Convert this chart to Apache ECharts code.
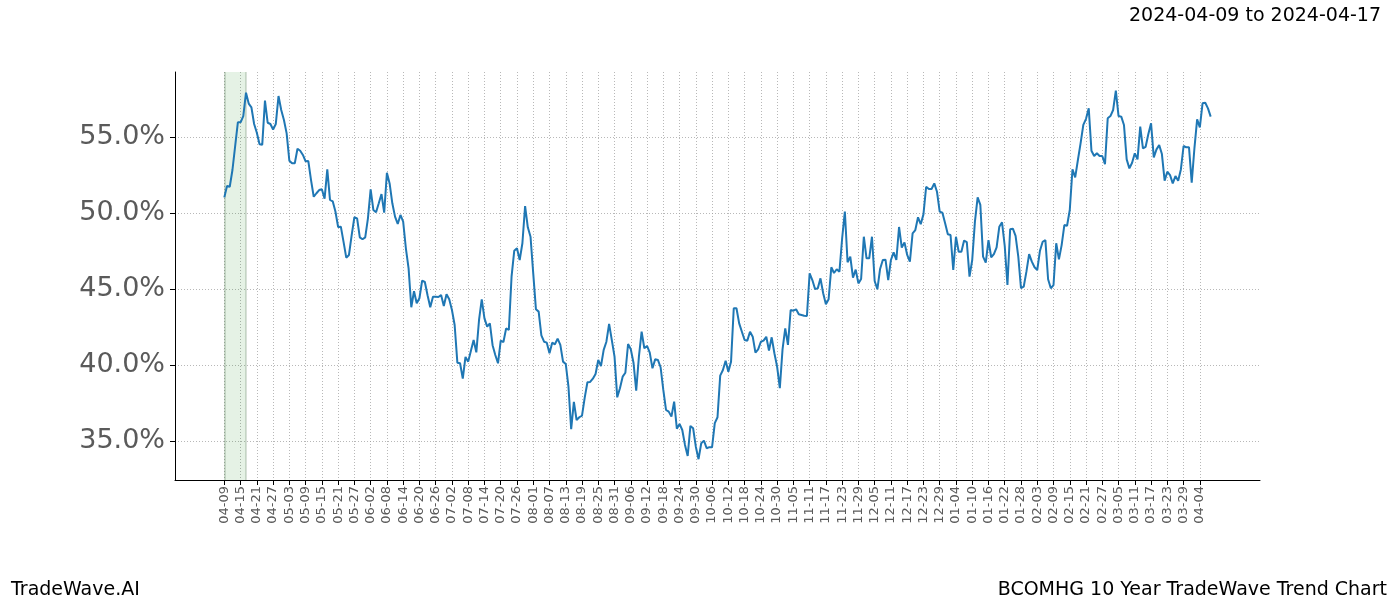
<!DOCTYPE html>
<html><head><meta charset="utf-8">
<script src="https://cdn.jsdelivr.net/npm/echarts@6/dist/echarts.min.js"></script>
<style>html,body{margin:0;padding:0;background:#fff}#c{width:1400px;height:600px}</style>
</head><body><div id="c"></div>
<script>
// day 0 = 2023-04-09, one value per calendar day
const tickLabels = ['04-09','04-15','04-21','04-27','05-03','05-09','05-15','05-21','05-27','06-02','06-08','06-14','06-20','06-26','07-02','07-08','07-14','07-20','07-26','08-01','08-07','08-13','08-19','08-25','08-31','09-06','09-12','09-18','09-24','09-30','10-06','10-12','10-18','10-24','10-30','11-05','11-11','11-17','11-23','11-29','12-05','12-11','12-17','12-23','12-29','01-04','01-10','01-16','01-22','01-28','02-03','02-09','02-15','02-21','02-27','03-05','03-11','03-17','03-23','03-29','04-04'];
const tickStepDays = 6;
const yTicks = [35, 40, 45, 50, 55];
const highlightDays = [0, 8]; // 04-09 .. 04-17
const values = [
51.03,51.78,51.73,52.83,54.4,55.97,55.97,56.38,57.92,57.2,
56.95,55.86,55.28,54.52,54.5,57.4,55.94,55.86,55.5,55.86,
57.7,56.78,56.12,55.24,53.44,53.27,53.27,54.23,54.1,53.82,
53.4,53.42,52.17,51.07,51.3,51.51,51.56,50.94,52.87,50.86,
50.77,50.1,49.08,49.1,48.1,47.06,47.24,48.55,49.72,49.65,
48.4,48.27,48.4,49.65,51.56,50.2,50.05,50.64,51.25,50.02,
52.65,51.95,50.64,49.76,49.28,49.87,49.43,47.68,46.36,43.8,
44.85,44.06,44.39,45.55,45.46,44.59,43.8,44.49,44.49,44.47,
44.6,43.88,44.65,44.32,43.62,42.63,40.15,40.11,39.1,40.53,
40.22,40.94,41.64,40.83,42.96,44.32,43.07,42.52,42.74,41.3,
40.66,40.11,41.6,41.51,42.41,42.3,45.81,47.52,47.68,46.91,
48.01,50.46,49.06,48.44,46.03,43.66,43.51,41.95,41.53,41.47,
40.77,41.47,41.36,41.73,41.32,40.22,40.07,38.57,35.77,37.57,
36.38,36.56,36.67,37.85,38.86,38.88,39.1,39.41,40.33,39.93,
40.99,41.53,42.7,41.64,40.55,37.87,38.47,39.23,39.49,41.38,
41.03,40.15,38.31,40.55,42.2,41.1,41.25,40.81,39.78,40.37,
40.33,39.85,38.36,37.04,36.93,36.6,37.59,35.81,36.12,35.72,
34.74,34.01,35.99,35.84,34.62,33.8,34.85,35.02,34.52,34.59,
34.59,36.17,36.56,39.3,39.67,40.28,39.56,40.22,43.73,43.73,
42.74,42.19,41.64,41.6,42.19,41.86,40.81,41.03,41.53,41.6,
41.86,40.95,41.82,40.77,39.89,38.47,41.03,42.41,41.32,43.62,
43.57,43.66,43.34,43.29,43.24,43.22,46.03,45.59,45.0,45.04,
45.7,44.72,43.99,44.32,46.43,46.05,46.3,46.14,48.34,50.09,
46.76,47.13,45.74,46.27,45.37,45.66,48.44,47.02,47.02,48.44,
45.53,44.98,46.32,46.91,46.93,45.59,46.91,47.41,46.91,49.08,
47.72,48.07,47.24,46.8,48.66,48.88,49.72,49.26,49.91,51.73,
51.58,51.58,51.95,51.4,50.09,50.02,49.32,48.6,48.55,46.25,
48.44,47.45,47.45,48.19,48.09,45.81,46.91,49.43,51.03,50.53,
47.13,46.73,48.22,47.09,47.3,47.74,49.1,49.39,47.83,45.26,
48.93,48.97,48.49,47.13,45.05,45.15,46.14,47.3,46.8,46.43,
46.25,47.52,48.11,48.22,45.64,45.05,45.26,48.01,46.95,47.89,
49.21,49.16,50.2,52.87,52.35,53.49,54.6,55.8,56.2,56.89,
54.1,53.75,53.93,53.75,53.75,53.22,56.23,56.38,56.78,58.05,
56.38,56.34,55.79,53.53,52.94,53.31,53.93,53.53,55.68,54.26,
54.36,55.2,55.9,53.66,54.19,54.47,53.88,52.13,52.72,52.5,
51.95,52.43,52.13,52.87,54.41,54.32,54.32,51.99,54.26,56.16,
55.64,57.22,57.26,56.89,56.34
];
const titleText = '2024-04-09 to 2024-04-17';
const footerLeft = 'TradeWave.AI';
const footerRight = 'BCOMHG 10 Year TradeWave Trend Chart';

const tickDays = tickLabels.map((_, i) => i * tickStepDays);
const n = values.length;
const span = n - 1;
const font = 'DejaVu Sans';

const chart = echarts.init(document.getElementById('c'), null, {renderer: 'canvas'});
chart.setOption({
  animation: false,
  backgroundColor: '#fff',
  title: [
    {text: titleText, right: 14, top: 2, textStyle: {fontFamily: font, fontSize: 19, fontWeight: 'normal', color: '#000'}},
    {text: footerLeft, left: 6, top: 576, textStyle: {fontFamily: font, fontSize: 19, fontWeight: 'normal', color: '#000'}},
    {text: footerRight, right: 8, top: 576, textStyle: {fontFamily: font, fontSize: 19, fontWeight: 'normal', color: '#000'}}
  ],
  grid: {left: 175, right: 140, top: 72, bottom: 120, containLabel: false},
  xAxis: {
    type: 'value',
    min: -0.05 * span,
    max: span * 1.05,
    axisLine: {show: true, onZero: false, lineStyle: {color: '#000', width: 1}},
    axisTick: {show: true, customValues: tickDays, length: 5, lineStyle: {color: '#000'}},
    axisLabel: {
      show: true, customValues: tickDays, rotate: 90, margin: 6,
      fontFamily: font, fontSize: 13, color: '#5a5a5a',
      formatter: v => tickLabels[Math.round(v / tickStepDays)] || ''
    },
    splitLine: {show: true, lineStyle: {color: '#9a9a9a', width: 0.7, type: [1, 2]}}
  },
  yAxis: {
    type: 'value',
    min: 32.43,
    max: 59.28,
    axisLine: {show: true, onZero: false, lineStyle: {color: '#000', width: 1}},
    axisTick: {show: true, customValues: yTicks, length: 5, lineStyle: {color: '#000'}},
    axisLabel: {
      show: true, customValues: yTicks, margin: 10,
      fontFamily: font, fontSize: 27, color: '#5a5a5a',
      formatter: v => v.toFixed(1) + '%'
    },
    splitLine: {show: true, lineStyle: {color: '#9a9a9a', width: 0.7, type: [1, 2]}}
  },
  series: [{
    type: 'line',
    data: values.map((v, i) => [i, v]),
    showSymbol: false,
    lineStyle: {color: '#1f77b4', width: 2},
    itemStyle: {color: '#1f77b4'},
    z: 5,
    markArea: {
      silent: true,
      itemStyle: {color: 'rgba(0,128,0,0.1)'},
      data: [[{xAxis: highlightDays[0]}, {xAxis: highlightDays[1]}]]
    },
    markLine: {
      silent: true, symbol: 'none', label: {show: false},
      lineStyle: {color: 'rgba(60,100,60,0.2)', width: 2, type: 'solid'},
      data: highlightDays.map(d => ({xAxis: d}))
    }
  }]
});
</script></body></html>
